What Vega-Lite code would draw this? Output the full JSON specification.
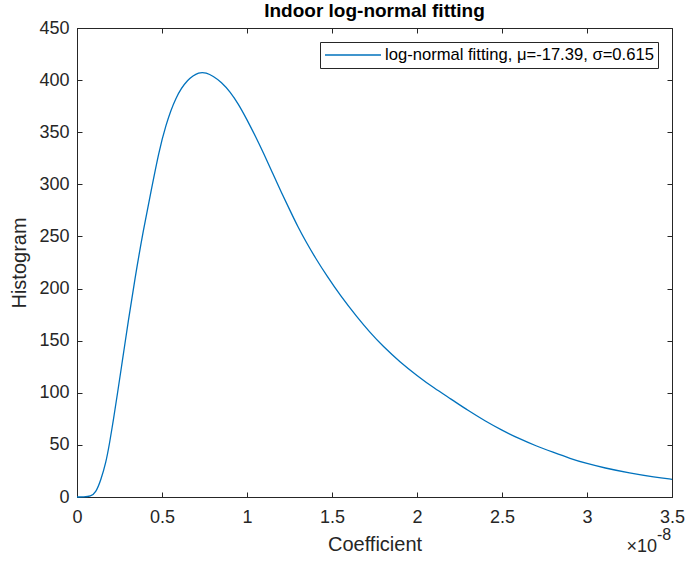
{
  "$schema": "https://vega.github.io/schema/vega-lite/v6.json",
  "width": 595,
  "height": 469,
  "autosize": "none",
  "padding": {"left": 77, "top": 28, "right": 13, "bottom": 64},
  "background": "white",
  "config": {
    "font": "Liberation Sans",
    "view": {"stroke": "#262626", "strokeWidth": 1},
    "axis": {"grid": false, "domainColor": "#262626", "tickColor": "#262626", "labelColor": "#262626", "titleColor": "#262626", "labelFont": "Liberation Sans", "titleFont": "Liberation Sans", "labelFontSize": 18, "titleFontSize": 20, "titleFontWeight": "normal", "tickSize": -5, "domainWidth": 1}
  },
  "title": {"text": "Indoor log-normal fitting", "fontSize": 19, "fontWeight": "bold", "font": "Liberation Sans", "color": "#000000", "offset": -2},
  "datasets": {
    "curve": [
      {"x": 0, "y": 0}, {"x": 0.04, "y": 0}, {"x": 0.08, "y": 0.5}, {"x": 0.11, "y": 4},
      {"x": 0.14, "y": 16}, {"x": 0.17, "y": 33}, {"x": 0.19, "y": 50}, {"x": 0.215, "y": 75},
      {"x": 0.235, "y": 96}, {"x": 0.27, "y": 134}, {"x": 0.3, "y": 167}, {"x": 0.34, "y": 209},
      {"x": 0.39, "y": 256}, {"x": 0.44, "y": 297}, {"x": 0.48, "y": 330}, {"x": 0.52, "y": 356},
      {"x": 0.58, "y": 384}, {"x": 0.65, "y": 401}, {"x": 0.72, "y": 408}, {"x": 0.76, "y": 407},
      {"x": 0.8, "y": 404}, {"x": 0.85, "y": 398}, {"x": 0.9, "y": 389}, {"x": 0.95, "y": 377},
      {"x": 1.0, "y": 362}, {"x": 1.05, "y": 346}, {"x": 1.1, "y": 329}, {"x": 1.15, "y": 311},
      {"x": 1.2, "y": 293}, {"x": 1.25, "y": 276}, {"x": 1.3, "y": 259}, {"x": 1.35, "y": 244},
      {"x": 1.4, "y": 230}, {"x": 1.47, "y": 212}, {"x": 1.55, "y": 193}, {"x": 1.65, "y": 172},
      {"x": 1.72, "y": 158.5}, {"x": 1.8, "y": 144.5}, {"x": 1.9, "y": 129.5}, {"x": 2.0, "y": 116.5},
      {"x": 2.1, "y": 104.5}, {"x": 2.2, "y": 94}, {"x": 2.3, "y": 83}, {"x": 2.4, "y": 73},
      {"x": 2.5, "y": 64}, {"x": 2.6, "y": 56}, {"x": 2.7, "y": 49}, {"x": 2.8, "y": 43},
      {"x": 2.9, "y": 37}, {"x": 3.0, "y": 32}, {"x": 3.1, "y": 28}, {"x": 3.25, "y": 23},
      {"x": 3.4, "y": 19}, {"x": 3.5, "y": 17}
    ]
  },
  "layer": [
    {
      "data": {"name": "curve"},
      "transform": [{"calculate": "'log-normal fitting, μ=-17.39, σ=0.615'", "as": "series"}],
      "mark": {"type": "line", "strokeWidth": 1.3, "interpolate": "basis"},
      "encoding": {
        "x": {"field": "x", "type": "quantitative", "scale": {"domain": [0, 3.5], "nice": false, "zero": false},
              "axis": {"orient": "bottom", "values": [0, 0.5, 1, 1.5, 2, 2.5, 3, 3.5], "format": "~g", "title": "Coefficient", "labelPadding": 16, "titlePadding": 8, "labelFlush": false}},
        "y": {"field": "y", "type": "quantitative", "scale": {"domain": [0, 450], "nice": false},
              "axis": {"orient": "left", "values": [0, 50, 100, 150, 200, 250, 300, 350, 400, 450], "format": "d", "title": "Histogram", "labelPadding": 13, "titlePadding": 9, "labelFlush": false}},
        "color": {"field": "series", "type": "nominal", "scale": {"range": ["#0072BD"]},
                  "legend": {"title": null, "orient": "top-right", "offset": 14, "strokeColor": "#262626", "fillColor": "white", "padding": 4,
                             "symbolType": "stroke", "symbolSize": 3136, "symbolOffset": 0, "labelOffset": 3, "symbolStrokeWidth": 1.3, "clipHeight": 18,
                             "labelFontSize": 16.6, "labelFont": "Liberation Sans", "labelColor": "#000000", "labelLimit": 400}}
      }
    },
    {
      "data": {"name": "curve"},
      "mark": {"type": "line", "opacity": 0},
      "encoding": {
        "x": {"field": "x", "type": "quantitative", "axis": {"orient": "top", "values": [0, 0.5, 1, 1.5, 2, 2.5, 3, 3.5], "labels": false, "title": null, "domain": false}},
        "y": {"field": "y", "type": "quantitative", "axis": {"orient": "right", "values": [0, 50, 100, 150, 200, 250, 300, 350, 400, 450], "labels": false, "title": null, "domain": false}}
      }
    },
    {
      "data": {"values": [{"t": "×10"}]},
      "mark": {"type": "text", "align": "right", "baseline": "alphabetic", "fontSize": 18, "color": "#262626", "dx": -15, "dy": 55},
      "encoding": {
        "x": {"datum": 3.5, "type": "quantitative", "axis": null},
        "y": {"datum": 0, "type": "quantitative", "axis": null},
        "text": {"field": "t"}
      }
    },
    {
      "data": {"values": [{"t": "-8"}]},
      "mark": {"type": "text", "align": "left", "baseline": "alphabetic", "fontSize": 16, "color": "#262626", "dx": -15, "dy": 43},
      "encoding": {
        "x": {"datum": 3.5, "type": "quantitative", "axis": null},
        "y": {"datum": 0, "type": "quantitative", "axis": null},
        "text": {"field": "t"}
      }
    }
  ]
}
